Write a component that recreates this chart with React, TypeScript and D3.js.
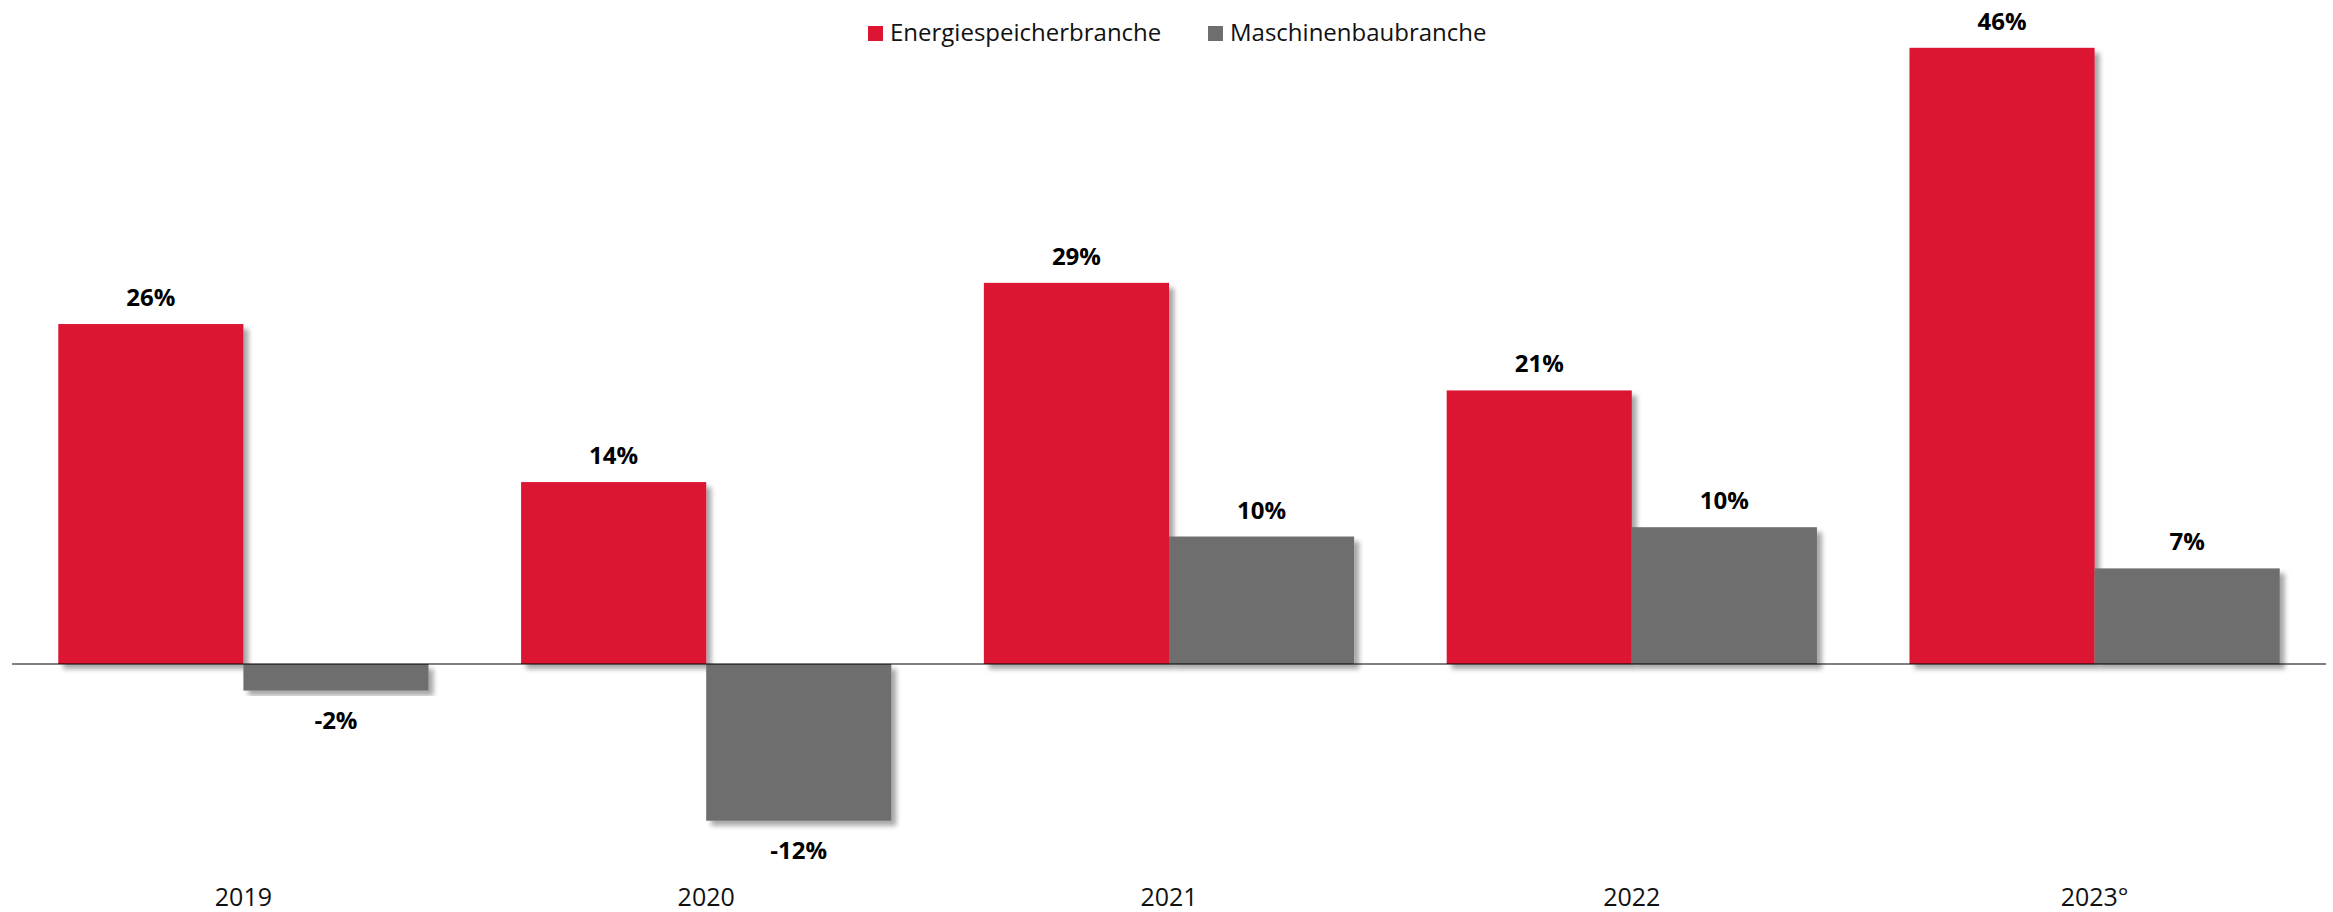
import React, { useEffect, useRef } from "react";
import * as d3 from "d3";

// chart data
const years = ["2019", "2020", "2021", "2022", "2023°"];
const seriesNames = ["Energiespeicherbranche", "Maschinenbaubranche"];
const energie = [25.6, 13.7, 28.7, 20.6, 46.4];
const maschinenbau = [-2.0, -11.8, 9.6, 10.3, 7.2];
const colors = ["#DC1632", "#6E6E6E"];

const W = 2333;
const H = 912;

const App = () => {
  const svgRef = useRef<SVGSVGElement | null>(null);

  useEffect(() => {
    const svg = d3.select(svgRef.current);
    svg.selectAll("*").remove();
    const font = "'Open Sans', 'Noto Sans', sans-serif";

    // drop shadow for the bars
    const defs = svg.append("defs");
    const f = defs.append("filter").attr("id", "shadow")
      .attr("x", "-10%").attr("y", "-10%").attr("width", "130%").attr("height", "130%");
    f.append("feDropShadow")
      .attr("dx", 5).attr("dy", 5).attr("stdDeviation", 2.5)
      .attr("flood-color", "#000").attr("flood-opacity", 0.35);

    //scales
    const x0 = d3.scaleBand().domain(years).range([12, 2326])
      .paddingInner(0.2).paddingOuter(0.1);
    const x1 = d3.scaleBand().domain(seriesNames).range([0, x0.bandwidth()]);
    const y = d3.scaleLinear().domain([0, 50]).range([664, 0]);

    const rows = years.map((yr, i) => ({ yr, vals: [energie[i], maschinenbau[i]] }));

    const groups = svg.selectAll(".grp").data(rows).join("g")
      .attr("transform", d => `translate(${x0(d.yr)},0)`);

    groups.selectAll("rect")
      .data(d => d.vals.map((v, k) => ({ v, k })))
      .join("rect")
      .attr("x", d => x1(seriesNames[d.k])!)
      .attr("width", x1.bandwidth())
      .attr("y", d => y(Math.max(0, d.v)))
      .attr("height", d => Math.abs(y(d.v) - y(0)))
      .attr("fill", d => colors[d.k])
      .attr("filter", "url(#shadow)");

    // value labels
    groups.selectAll("text.val")
      .data(d => d.vals.map((v, k) => ({ v, k })))
      .join("text")
      .attr("class", "val")
      .attr("x", d => x1(seriesNames[d.k])! + x1.bandwidth() / 2)
      .attr("y", d => d.v >= 0 ? y(d.v) - 18 : y(d.v) + 38)
      .attr("text-anchor", "middle")
      .style("font-family", font)
      .style("font-weight", "bold")
      .style("font-size", "24px")
      .attr("fill", "#000")
      .text(d => `${Math.round(d.v)}%`);

    // zero line
    svg.append("line")
      .attr("x1", 12).attr("x2", 2326)
      .attr("y1", y(0)).attr("y2", y(0))
      .attr("stroke", "#000").attr("stroke-width", 1.2);

    // year labels
    svg.selectAll("text.yr").data(years).join("text")
      .attr("class", "yr")
      .attr("x", d => x0(d)! + x0.bandwidth() / 2)
      .attr("y", 906)
      .attr("text-anchor", "middle")
      .style("font-family", font)
      .style("font-size", "25px")
      .attr("fill", "#111")
      .text(d => d);

    // legend
    const legendX = [868, 1208];
    const lg = svg.selectAll("g.lg").data(seriesNames).join("g")
      .attr("class", "lg")
      .attr("transform", (d, i) => `translate(${legendX[i]},26)`);
    lg.append("rect").attr("width", 15).attr("height", 15)
      .attr("fill", (d, i) => colors[i]);
    lg.append("text").attr("x", 22).attr("y", 15)
      .style("font-family", font)
      .style("font-size", "24px")
      .attr("fill", "#111")
      .text(d => d);
  }, []);

  return (
    <div style={{ position: "absolute", left: 0, top: 0 }}>
      <svg ref={svgRef} width={W} height={H} style={{ display: "block", background: "#fff" }} />
    </div>
  );
};

export default App;
